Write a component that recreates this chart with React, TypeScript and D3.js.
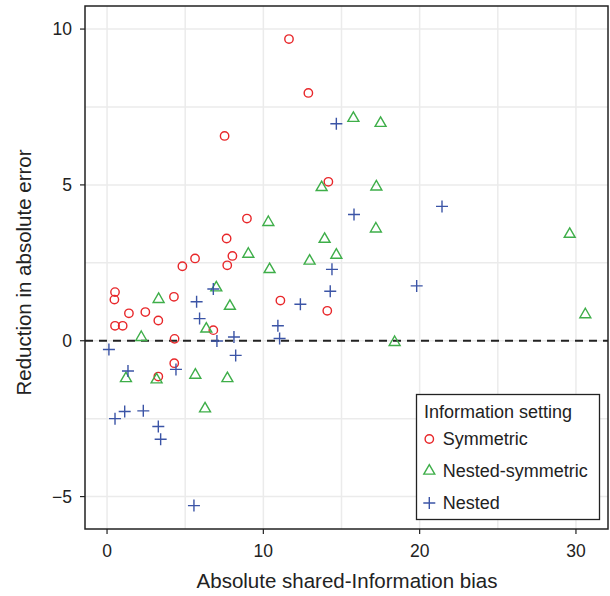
import * as d3 from 'd3'

// Symmetric (red circles)
const symX = [11.64, 12.88, 7.52, 14.16, 8.95, 7.65, 5.63, 8.02, 4.82, 7.69, 0.51, 0.47, 4.28, 11.09, 1.4, 2.45, 3.28, 14.09, 0.51, 1.0, 6.8, 4.32, 4.3, 3.28]
const symY = [9.68, 7.95, 6.57, 5.1, 3.92, 3.28, 2.64, 2.72, 2.39, 2.42, 1.56, 1.32, 1.41, 1.29, 0.88, 0.92, 0.65, 0.96, 0.48, 0.48, 0.34, 0.06, -0.72, -1.15]

// Nested-symmetric (green triangles)
const nsX = [13.73, 10.32, 13.92, 9.04, 12.96, 14.67, 10.4, 15.76, 17.5, 17.23, 17.2, 29.6, 6.99, 3.3, 7.86, 6.35, 2.19, 1.21, 3.17, 5.65, 7.7, 6.27, 18.4, 30.6]
const nsY = [4.92, 3.8, 3.26, 2.78, 2.56, 2.75, 2.29, 7.14, 6.98, 4.94, 3.59, 3.42, 1.7, 1.33, 1.11, 0.38, 0.11, -1.21, -1.25, -1.1, -1.21, -2.18, -0.05, 0.84]

// Nested (blue plus)
const nestX = [14.67, 14.39, 15.8, 21.43, 14.28, 6.8, 5.73, 12.37, 5.92, 10.93, 11.04, 7.03, 8.12, 8.23, 0.12, 1.34, 4.41, 1.13, 2.32, 0.51, 3.28, 3.43, 5.56, 19.81]
const nestY = [6.96, 2.29, 4.05, 4.31, 1.59, 1.66, 1.25, 1.17, 0.71, 0.48, 0.07, -0.01, 0.12, -0.47, -0.28, -0.97, -0.92, -2.27, -2.25, -2.5, -2.75, -3.16, -5.29, 1.76]

const xTicks = [0, 10, 20, 30]
const xGrid = [0, 5, 10, 15, 20, 25, 30]
const yTicks = [-5, 0, 5, 10]
const yGrid = [-5, -2.5, 0, 2.5, 5, 7.5, 10]

const RED = '#e8272a'
const GREEN = '#3eae49'
const BLUE = '#3b54a6'
const FONT = '"Liberation Sans", Arial, sans-serif'

const W = 610
const H = 596
const left = 85
const right = 608
const top = 6
const bottom = 529

const x = d3.scaleLinear().domain([-1.41, 32.05]).range([left, right])
const y = d3.scaleLinear().domain([-6.04, 10.74]).range([bottom, top])

const tri = d3.symbol().type(d3.symbolTriangle).size(52)

function Circle({ cx, cy }: { cx: number; cy: number }) {
  return <circle cx={cx} cy={cy} r={4.2} fill="none" stroke={RED} strokeWidth={1.4} />
}
function Tri({ cx, cy }: { cx: number; cy: number }) {
  return <path d={tri()!} transform={`translate(${cx},${cy})`} fill="none" stroke={GREEN} strokeWidth={1.4} />
}
function Plus({ cx, cy }: { cx: number; cy: number }) {
  const s = 6
  return (
    <path d={`M${cx - s},${cy}H${cx + s}M${cx},${cy - s}V${cy + s}`} stroke={BLUE} strokeWidth={1.4} fill="none" />
  )
}

export default function App() {
  return (
    <svg width={W} height={H} style={{ position: 'absolute', left: 0, top: 0, background: '#fff' }}>
      {/* grid */}
      {xGrid.map(v => (
        <line key={'gx' + v} x1={x(v)} x2={x(v)} y1={top} y2={bottom} stroke="#ebebeb" strokeWidth={1.5} />
      ))}
      {yGrid.map(v => (
        <line key={'gy' + v} x1={left} x2={right} y1={y(v)} y2={y(v)} stroke="#ebebeb" strokeWidth={1.5} />
      ))}

      {/* zero line */}
      <line x1={left} x2={right} y1={y(0)} y2={y(0)} stroke="#222" strokeWidth={2} strokeDasharray="8,6" />

      {/* points */}
      {symX.map((v, i) => <Circle key={'s' + i} cx={x(v)} cy={y(symY[i])} />)}
      {nsX.map((v, i) => <Tri key={'n' + i} cx={x(v)} cy={y(nsY[i])} />)}
      {nestX.map((v, i) => <Plus key={'p' + i} cx={x(v)} cy={y(nestY[i])} />)}

      {/* panel border */}
      <rect x={left} y={top} width={right - left} height={bottom - top} fill="none" stroke="#222" strokeWidth={1.5} />

      {/* axes */}
      {xTicks.map(v => (
        <g key={'xt' + v}>
          <line x1={x(v)} x2={x(v)} y1={bottom} y2={bottom + 5} stroke="#222" strokeWidth={1.2} />
          <text x={x(v)} y={bottom + 28} textAnchor="middle" fontFamily={FONT} fontSize={17.5} fill="#222">{v}</text>
        </g>
      ))}
      {yTicks.map(v => (
        <g key={'yt' + v}>
          <line x1={left - 5} x2={left} y1={y(v)} y2={y(v)} stroke="#222" strokeWidth={1.2} />
          <text x={left - 13} y={y(v)} dy="0.36em" textAnchor="end" fontFamily={FONT} fontSize={17.5} fill="#222">
            {v < 0 ? '\u2212' + Math.abs(v) : v}
          </text>
        </g>
      ))}

      <text x={347} y={588} textAnchor="middle" fontFamily={FONT} fontSize={20.5} fill="#222">
        Absolute shared-Information bias
      </text>
      <text transform={`translate(31,${(top + bottom) / 2 + 5}) rotate(-90)`} textAnchor="middle" fontFamily={FONT} fontSize={20.5} fill="#222">
        Reduction in absolute error
      </text>

      {/* legend */}
      <rect x={416.5} y={394.5} width={183} height={125} fill="#fff" stroke="#222" strokeWidth={1.3} />
      <text x={424} y={417.5} fontFamily={FONT} fontSize={18} fill="#222">Information setting</text>
      <Circle cx={429.3} cy={439} />
      <text x={442.7} y={445} fontFamily={FONT} fontSize={18} fill="#222">Symmetric</text>
      <Tri cx={429.3} cy={471} />
      <text x={442.7} y={477} fontFamily={FONT} fontSize={18} fill="#222">Nested-symmetric</text>
      <Plus cx={429.3} cy={503} />
      <text x={442.7} y={509} fontFamily={FONT} fontSize={18} fill="#222">Nested</text>
    </svg>
  )
}
